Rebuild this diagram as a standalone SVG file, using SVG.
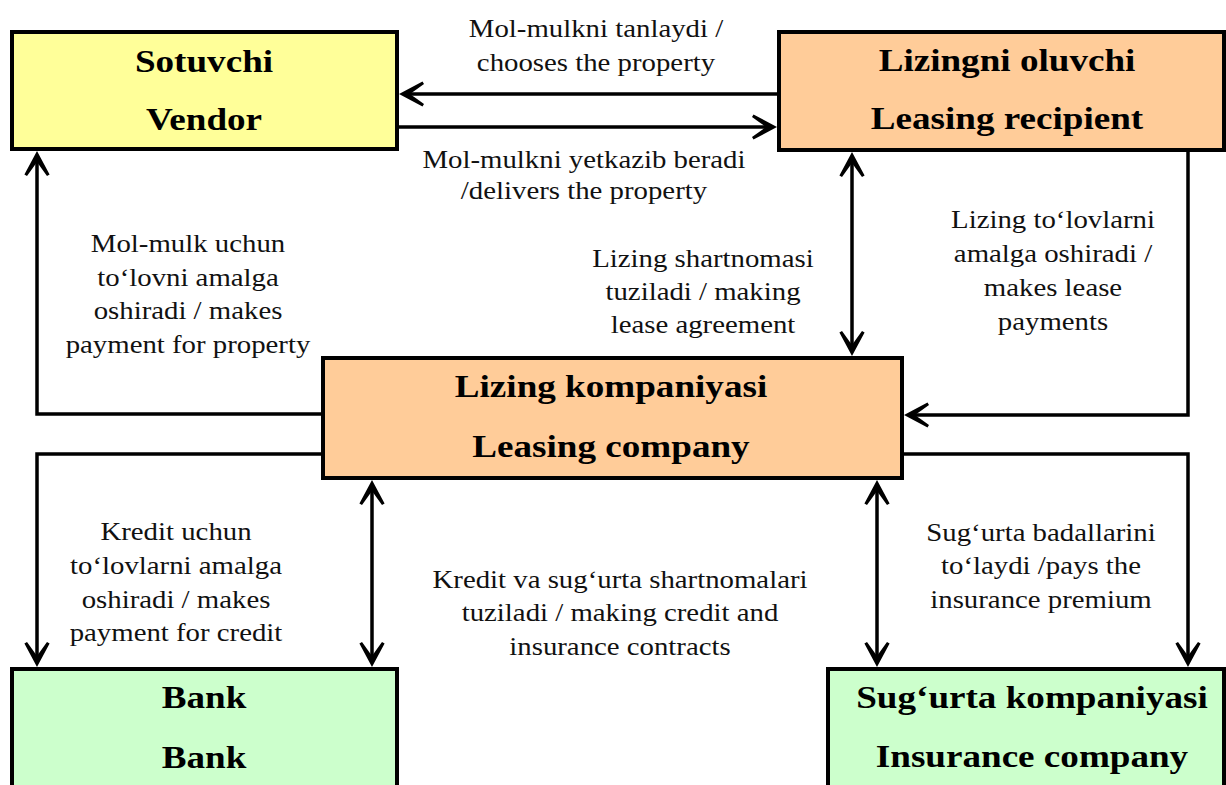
<svg xmlns="http://www.w3.org/2000/svg" width="1226" height="785" viewBox="0 0 1226 785">
  <style>
    .box { stroke: #000; stroke-width: 4; }
    .vendor { fill: #FFFF99; }
    .orange { fill: #FFCC99; }
    .green { fill: #CCFFCC; }
    .title { font-family: "Liberation Serif", "Times New Roman", serif; font-weight: bold; font-size: 32px; text-anchor: middle; fill: #000; }
    .label { font-family: "Liberation Serif", "Times New Roman", serif; font-size: 25.5px; text-anchor: middle; fill: #111; }
    .conn { fill: none; stroke: #000; stroke-width: 3.5; }
  </style>
  <defs>
    <!-- notched arrowhead; tip sits 6px past the path end -->
    <marker id="arrow" markerUnits="userSpaceOnUse" viewBox="-22 -15 30 30" markerWidth="30" markerHeight="30" refX="0" refY="0" orient="auto-start-reverse">
      <path d="M6,0 L-17.5,-12.6 L-19,-10 Q-10,-3.5 -5,0 Q-10,3.5 -19,10 L-17.5,12.6 Z" fill="#000"/>
    </marker>
  </defs>

  <rect width="1226" height="785" fill="#fff"/>

  <!-- Vendor -->
  <g id="vendor">
    <rect class="box vendor" x="12" y="32" width="385" height="117"/>
    <text class="title" transform="translate(204,72) scale(1.16,1)">Sotuvchi</text>
    <text class="title" transform="translate(204,130) scale(1.16,1)">Vendor</text>
  </g>

  <!-- Leasing recipient -->
  <g id="recipient">
    <rect class="box orange" x="779" y="32" width="445" height="118"/>
    <text class="title" transform="translate(1007,71) scale(1.16,1)">Lizingni oluvchi</text>
    <text class="title" transform="translate(1007,129) scale(1.16,1)">Leasing recipient</text>
  </g>

  <!-- Leasing company -->
  <g id="leasing-company">
    <rect class="box orange" x="323" y="358" width="579" height="120"/>
    <text class="title" transform="translate(611,397) scale(1.16,1)">Lizing kompaniyasi</text>
    <text class="title" transform="translate(611,457) scale(1.16,1)">Leasing company</text>
  </g>

  <!-- Bank -->
  <g id="bank">
    <rect class="box green" x="12" y="669" width="385" height="130"/>
    <text class="title" transform="translate(204,708) scale(1.16,1)">Bank</text>
    <text class="title" transform="translate(204,768) scale(1.16,1)">Bank</text>
  </g>

  <!-- Insurance company -->
  <g id="insurance">
    <rect class="box green" x="828" y="669" width="396" height="130"/>
    <text class="title" transform="translate(1032,708) scale(1.16,1)">Sug‘urta kompaniyasi</text>
    <text class="title" transform="translate(1032,767) scale(1.16,1)">Insurance company</text>
  </g>

  <!-- Connectors -->
  <g id="connectors">
    <path class="conn" d="M777,94 H405" marker-end="url(#arrow)"/>
    <path class="conn" d="M399,127 H771" marker-end="url(#arrow)"/>
    <path class="conn" d="M323,414 H37 V157" marker-end="url(#arrow)"/>
    <path class="conn" d="M323,454 H37 V661" marker-end="url(#arrow)"/>
    <path class="conn" d="M372,486 V661" marker-start="url(#arrow)" marker-end="url(#arrow)"/>
    <path class="conn" d="M852,158 V350" marker-start="url(#arrow)" marker-end="url(#arrow)"/>
    <path class="conn" d="M1188,150 V415 H910" marker-end="url(#arrow)"/>
    <path class="conn" d="M902,454 H1188 V661" marker-end="url(#arrow)"/>
    <path class="conn" d="M877,486 V661" marker-start="url(#arrow)" marker-end="url(#arrow)"/>
  </g>

  <!-- Connector labels -->
  <g id="labels">
    <text class="label" transform="translate(596,37) scale(1.13,1)">Mol-mulkni tanlaydi /</text>
    <text class="label" transform="translate(596,71) scale(1.13,1)">chooses the property</text>

    <text class="label" transform="translate(584,168) scale(1.13,1)">Mol-mulkni yetkazib beradi</text>
    <text class="label" transform="translate(584,199) scale(1.13,1)">/delivers the property</text>

    <text class="label" transform="translate(188,252) scale(1.13,1)">Mol-mulk uchun</text>
    <text class="label" transform="translate(188,286) scale(1.13,1)">to‘lovni amalga</text>
    <text class="label" transform="translate(188,319) scale(1.13,1)">oshiradi / makes</text>
    <text class="label" transform="translate(188,353) scale(1.13,1)">payment for property</text>

    <text class="label" transform="translate(703,267) scale(1.13,1)">Lizing shartnomasi</text>
    <text class="label" transform="translate(703,300) scale(1.13,1)">tuziladi / making</text>
    <text class="label" transform="translate(703,333) scale(1.13,1)">lease agreement</text>

    <text class="label" transform="translate(1053,228) scale(1.13,1)">Lizing to‘lovlarni</text>
    <text class="label" transform="translate(1053,262) scale(1.13,1)">amalga oshiradi /</text>
    <text class="label" transform="translate(1053,296) scale(1.13,1)">makes lease</text>
    <text class="label" transform="translate(1053,330) scale(1.13,1)">payments</text>

    <text class="label" transform="translate(176,540) scale(1.13,1)">Kredit uchun</text>
    <text class="label" transform="translate(176,574) scale(1.13,1)">to‘lovlarni amalga</text>
    <text class="label" transform="translate(176,608) scale(1.13,1)">oshiradi / makes</text>
    <text class="label" transform="translate(176,641) scale(1.13,1)">payment for credit</text>

    <text class="label" transform="translate(620,588) scale(1.13,1)">Kredit va sug‘urta shartnomalari</text>
    <text class="label" transform="translate(620,621) scale(1.13,1)">tuziladi / making credit and</text>
    <text class="label" transform="translate(620,655) scale(1.13,1)">insurance contracts</text>

    <text class="label" transform="translate(1041,541) scale(1.13,1)">Sug‘urta badallarini</text>
    <text class="label" transform="translate(1041,574) scale(1.13,1)">to‘laydi /pays the</text>
    <text class="label" transform="translate(1041,608) scale(1.13,1)">insurance premium</text>
  </g>
</svg>
